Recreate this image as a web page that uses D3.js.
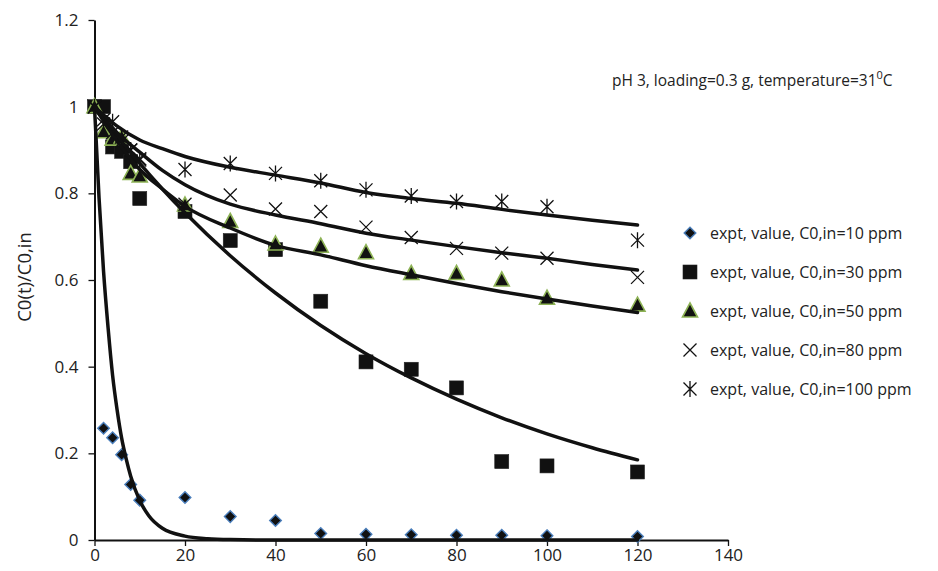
<!DOCTYPE html>
<html>
<head>
<meta charset="utf-8">
<script src="https://cdn.jsdelivr.net/npm/d3@7"></script>
<style>
  body { margin: 0; background: #fff; }
  text { font-family: "Open Sans", sans-serif; fill: #222; }
</style>
</head>
<body>
<div id="chart"></div>
<script>
// data
const times = [0, 2, 4, 6, 8, 10, 20, 30, 40, 50, 60, 70, 80, 90, 100, 120];
const expt10  = [1.0, 0.258, 0.236, 0.197, 0.128, 0.092, 0.098, 0.054, 0.045, 0.015, 0.013, 0.012, 0.011, 0.011, 0.010, 0.008];
const expt30  = [1.0, 1.0, 0.907, 0.897, 0.873, 0.788, 0.758, 0.691, 0.670, 0.551, 0.411, 0.394, 0.351, 0.181, 0.171, 0.157];
const expt50  = [1.0, 0.942, 0.925, 0.93, 0.846, 0.840, 0.773, 0.735, 0.683, 0.678, 0.663, 0.615, 0.615, 0.600, 0.558, 0.542];
const expt80  = [1.0, 0.96, 0.94, 0.92, 0.90, 0.88, 0.775, 0.796, 0.764, 0.758, 0.722, 0.698, 0.673, 0.662, 0.650, 0.606];
const expt100 = [1.0, 0.97, 0.965, 0.93, 0.90, 0.877, 0.855, 0.869, 0.846, 0.829, 0.808, 0.794, 0.781, 0.781, 0.769, 0.692];

// model curves (read at these times)
const fitTimes10 = [0, 1, 2, 3, 4, 5, 6, 7, 8, 10, 12, 15, 20, 25, 30, 40, 60, 80, 100, 120];
const fit10 = [1.0, 0.79, 0.62, 0.49, 0.38, 0.30, 0.235, 0.187, 0.147, 0.091, 0.056, 0.027, 0.009, 0.003, 0.001, 0, 0, 0, 0, 0];
const fitTimes = [0, 5, 10, 15, 20, 30, 40, 50, 60, 70, 80, 90, 100, 110, 120];
const fit30  = [1.0, 0.932, 0.869, 0.81, 0.755, 0.656, 0.570, 0.495, 0.430, 0.374, 0.325, 0.282, 0.245, 0.213, 0.185];
const fit50  = [1.0, 0.92, 0.855, 0.81, 0.77, 0.72, 0.68, 0.658, 0.633, 0.612, 0.592, 0.573, 0.556, 0.540, 0.525];
const fit80  = [1.0, 0.94, 0.895, 0.853, 0.82, 0.775, 0.75, 0.73, 0.708, 0.692, 0.677, 0.663, 0.650, 0.636, 0.623];
const fit100 = [1.0, 0.955, 0.923, 0.903, 0.885, 0.86, 0.842, 0.824, 0.802, 0.788, 0.777, 0.763, 0.750, 0.738, 0.727];

const legendLabels = ["expt, value, C0,in=10 ppm", "expt, value, C0,in=30 ppm", "expt, value, C0,in=50 ppm",
                      "expt, value, C0,in=80 ppm", "expt, value, C0,in=100 ppm"];
const xTicks = [0, 20, 40, 60, 80, 100, 120, 140];
const yTicks = [0, 0.2, 0.4, 0.6, 0.8, 1, 1.2];

const width = 938, height = 571;

const svg = d3.select("#chart").append("svg")
    .attr("width", width)
    .attr("height", height);

// scales
const x = d3.scaleLinear().domain([0, 140]).range([94.5, 728]);
const y = d3.scaleLinear().domain([0, 1.2]).range([540, 20]);

// axes
const xAxis = svg.append("g")
    .attr("transform", `translate(0, ${y(0)})`)
    .call(d3.axisBottom(x).tickValues(xTicks).tickSize(6).tickPadding(3).tickSizeOuter(0));
const yAxis = svg.append("g")
    .attr("transform", `translate(${x(0)}, 0)`)
    .call(d3.axisLeft(y).tickValues(yTicks).tickSize(6).tickPadding(10).tickSizeOuter(0).tickFormat(d3.format("")));

[xAxis, yAxis].forEach(a => {
    a.select(".domain").attr("stroke", "#111").attr("stroke-width", 2);
    a.selectAll(".tick line").attr("stroke", "#111").attr("stroke-width", 1.3);
    a.selectAll(".tick text").style("font-size", "17px").attr("fill", "#222");
});

// y axis label
svg.append("text")
    .attr("transform", `translate(31, 277) rotate(-90)`)
    .style("text-anchor", "middle")
    .style("font-size", "18.5px")
    .text("C0(t)/C0,in");

// annotation
const note = svg.append("text")
    .attr("x", 612)
    .attr("y", 86)
    .style("font-size", "15.5px");
note.append("tspan").text("pH 3, loading=0.3 g, temperature=31");
note.append("tspan").attr("dy", -7).style("font-size", "11px").text("0");
note.append("tspan").attr("dy", 7).text("C");

// marker drawers
function diamond(g, cx, cy) {
    const r = 5.8;
    g.append("path").attr("d", `M${cx},${cy - r}L${cx + r},${cy}L${cx},${cy + r}L${cx - r},${cy}Z`)
        .attr("fill", "#111").attr("stroke", "#4a7ebb").attr("stroke-width", 1.4);
}
function square(g, cx, cy) {
    g.append("rect").attr("x", cx - 7).attr("y", cy - 7).attr("width", 14).attr("height", 14)
        .attr("fill", "#111").attr("stroke", "#222").attr("stroke-width", 0.6);
}
function triangle(g, cx, cy) {
    g.append("path").attr("d", `M${cx},${cy - 8}L${cx + 7.5},${cy + 6}L${cx - 7.5},${cy + 6}Z`)
        .attr("fill", "#111").attr("stroke", "#8db255").attr("stroke-width", 1.6);
}
function cross(g, cx, cy) {
    const r = 6.5;
    g.append("path").attr("d", `M${cx - r},${cy - r}L${cx + r},${cy + r}M${cx - r},${cy + r}L${cx + r},${cy - r}`)
        .attr("stroke", "#111").attr("stroke-width", 1.3).attr("fill", "none");
}
function star(g, cx, cy) {
    const r = 6.5;
    g.append("path").attr("d", `M${cx - r},${cy - r}L${cx + r},${cy + r}M${cx - r},${cy + r}L${cx + r},${cy - r}M${cx},${cy - 8}L${cx},${cy + 8}`)
        .attr("stroke", "#111").attr("stroke-width", 1.3).attr("fill", "none");
}

const series = [
    { vals: expt10, mark: diamond },
    { vals: expt30, mark: square },
    { vals: expt50, mark: triangle },
    { vals: expt80, mark: cross },
    { vals: expt100, mark: star }
];

// experimental points
const pts = svg.append("g");
series.forEach(s => {
    times.forEach((t, i) => s.mark(pts, x(t), y(s.vals[i])));
});

// model curves
const line = d3.line().x(d => x(d[0])).y(d => y(d[1])).curve(d3.curveMonotoneX);
const fits = [
    d3.zip(fitTimes10, fit10),
    d3.zip(fitTimes, fit30),
    d3.zip(fitTimes, fit50),
    d3.zip(fitTimes, fit80),
    d3.zip(fitTimes, fit100)
];
svg.append("g").selectAll("path")
    .data(fits)
    .join("path")
    .attr("d", line)
    .attr("fill", "none")
    .attr("stroke", "#111")
    .attr("stroke-width", 3.5)
    .attr("stroke-linecap", "round");

// legend
const legend = svg.append("g");
series.forEach((s, i) => {
    const ly = 233 + i * 39;
    s.mark(legend, 690, ly);
    legend.append("text")
        .attr("x", 710)
        .attr("y", ly)
        .attr("dy", "0.35em")
        .style("font-size", "16px")
        .text(legendLabels[i]);
});
</script>
</body>
</html>
